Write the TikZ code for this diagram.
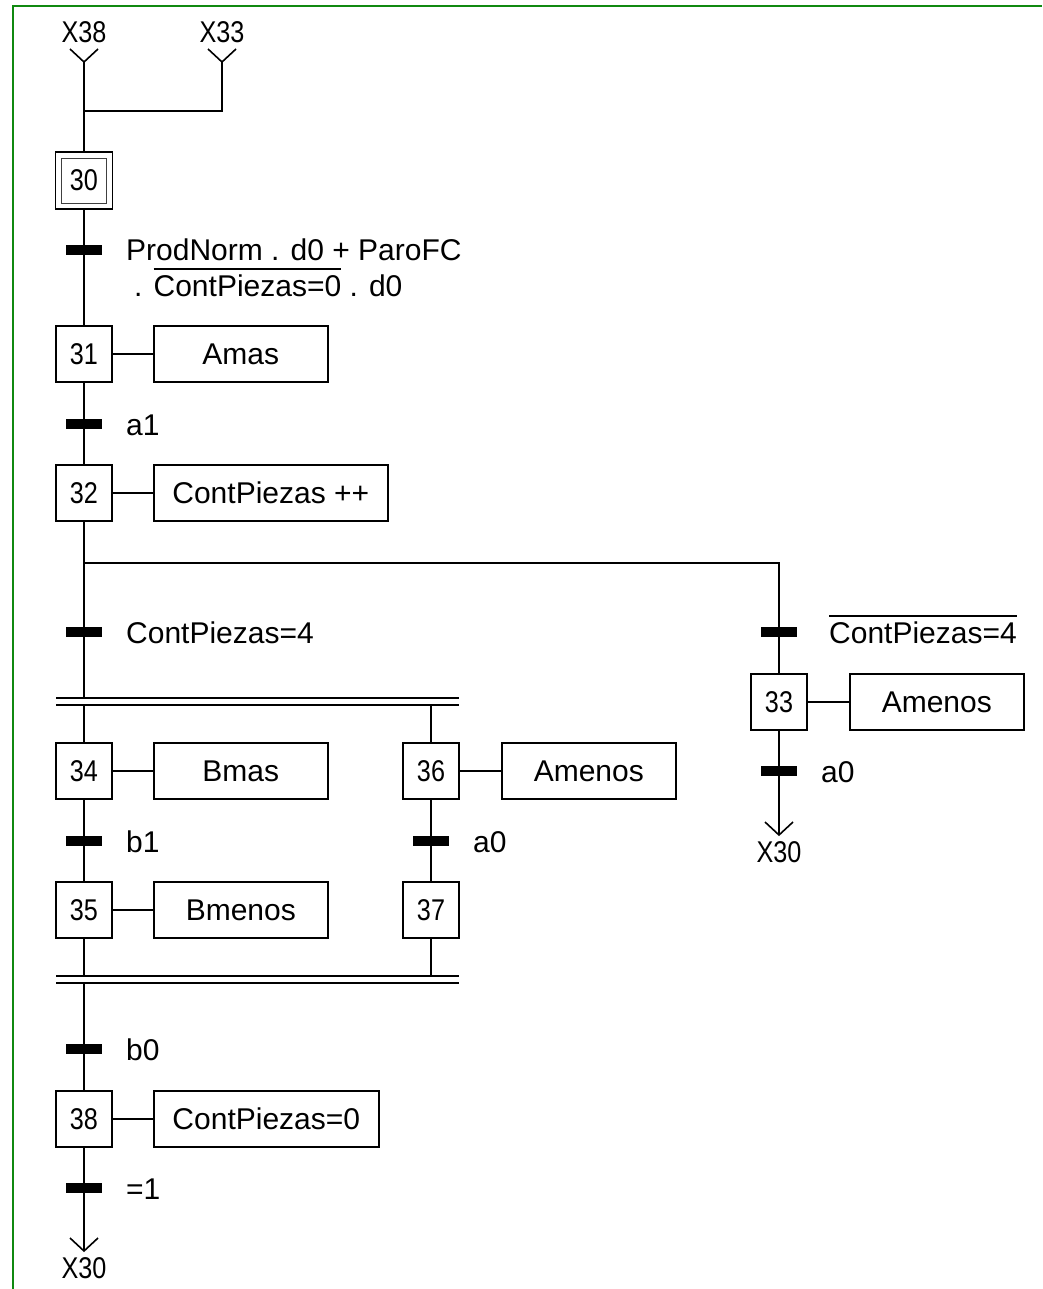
\documentclass[tikz,border=0pt]{standalone}
\usepackage{fontspec}
\setmainfont{Liberation Sans}
\newfontfamily\narrowfont[FakeStretch=0.84]{Liberation Sans}
\usetikzlibrary{calc}
\definecolor{framegreen}{RGB}{16,137,16}
% negated condition: text with a bar over it
\newcommand\negbar[1]{\leavevmode\vbox{\hrule height 1.4pt\kern 4.5pt\hbox{#1}}}
\begin{document}
\begin{tikzpicture}[x=1pt,y=-1pt,
  every node/.style={font=\fontsize{30}{36}\selectfont},
  link/.style={line width=1.6pt},
  stepbox/.style={draw, line width=1.6pt, minimum width=56pt, minimum height=56pt,
    inner sep=0pt, font=\narrowfont\fontsize{30}{36}\selectfont},
  actbox/.style={draw, line width=1.6pt, minimum height=56pt, anchor=west, inner sep=0pt},
  trbar/.style={fill=black, minimum width=36pt, minimum height=10pt, inner sep=0pt},
  trlabel/.style={anchor=base west, inner sep=0pt},
  reflabel/.style={inner sep=0pt, font=\narrowfont\fontsize{30}{36}\selectfont}]

\useasboundingbox (0,0) rectangle (1042,1289);
\draw[framegreen, line width=2.6pt] (13,1289) -- (13,6) -- (1042,6);

% ---- entry into the initial step
\node[reflabel] (x38) at (84,32) {X38};
\node[reflabel] (x33) at (222,32) {X33};
\coordinate (in38) at (84,62);
\coordinate (in33) at (222,62);
\coordinate (j38) at (84,111);
\coordinate (j33) at (222,111);
\draw[link] (in38) ++(-14,-13) -- (in38) -- ++(14,-13);
\draw[link] (in33) ++(-14,-13) -- (in33) -- ++(14,-13);

\node[stepbox, minimum width=57pt, minimum height=57pt] (s30) at (84,180.5) {};
\node[stepbox, draw=black!75, line width=0.9pt, minimum width=45pt, minimum height=45pt] (s30i) at (s30.center) {30};
\draw[link] (in38) -- (s30);
\draw[link] (in33) -- (j33) -- (j38);

% ---- main sequence
\node[trbar] (t1) at (84,250) {};
\node[trlabel] (l1) at (126,261) {ProdNorm . d0 + ParoFC};
\node[trlabel] (l1b) at (134,296) {. \negbar{ContPiezas=0} . d0};

\node[stepbox] (s31) at (84,354) {31};
\node[actbox, minimum width=174pt] (a31) at (153,354) {Amas};
\node[trbar] (t2) at (84,424) {};
\node[trlabel] (l2) at (126,435) {a1};

\node[stepbox] (s32) at (84,493) {32};
\node[actbox, minimum width=234pt] (a32) at (153,493) {ContPiezas ++};

\draw[link] (s30) -- (t1) -- (s31) -- (t2) -- (s32);
\draw[link] (s31) -- (a31);
\draw[link] (s32) -- (a32);

% ---- selection of sequence
\coordinate (or1) at (84,563);
\coordinate (or2) at (779,563);
\node[trbar] (t3) at (84,632) {};
\node[trlabel] (l3) at (126,643) {ContPiezas=4};
\node[trbar] (t4) at (779,632) {};
\node[trlabel] (l4) at (829,643) {\negbar{ContPiezas=4}};
\draw[link] (s32) -- (t3);
\draw[link] (or1) -- (or2) -- (t4);

% ---- right branch
\node[stepbox] (s33) at (779,702) {33};
\node[actbox, minimum width=174pt] (a33) at (849,702) {Amenos};
\node[trbar] (t5) at (779,771) {};
\node[trlabel] (l5) at (821,782) {a0};
\coordinate (out33) at (779,835);
\node[reflabel] (x30r) at (779,852) {X30};
\draw[link] (t4) -- (s33) -- (t5) -- (out33);
\draw[link] (s33) -- (a33);
\draw[link] (out33) ++(-14,-13) -- (out33) -- ++(14,-13);

% ---- parallel branches
\coordinate (pa1L) at (56,698);
\coordinate (pa1R) at (459,698);
\coordinate (pa2L) at (56,705);
\coordinate (pa2R) at (459,705);
\draw[link] (pa1L) -- (pa1R);
\draw[link] (pa2L) -- (pa2R);

\node[stepbox] (s34) at (84,771) {34};
\node[actbox, minimum width=174pt] (a34) at (153,771) {Bmas};
\node[stepbox] (s36) at (431,771) {36};
\node[actbox, minimum width=174pt] (a36) at (501,771) {Amenos};

\node[trbar] (t7) at (84,841) {};
\node[trlabel] (l7) at (126,852) {b1};
\node[trbar] (t8) at (431,841) {};
\node[trlabel] (l8) at (473,852) {a0};

\node[stepbox] (s35) at (84,910) {35};
\node[actbox, minimum width=174pt] (a35) at (153,910) {Bmenos};
\node[stepbox] (s37) at (431,910) {37};

\coordinate (pc1L) at (56,976);
\coordinate (pc1R) at (459,976);
\coordinate (pc2L) at (56,983);
\coordinate (pc2R) at (459,983);
\draw[link] (pc1L) -- (pc1R);
\draw[link] (pc2L) -- (pc2R);

\draw[link] (t3) -- (t3 |- pa1L);
\draw[link] (s34 |- pa2L) -- (s34) -- (t7) -- (s35) -- (s35 |- pc1L);
\draw[link] (s36 |- pa2L) -- (s36) -- (t8) -- (s37) -- (s37 |- pc1L);
\draw[link] (s34) -- (a34);
\draw[link] (s36) -- (a36);
\draw[link] (s35) -- (a35);

% ---- after synchronisation
\node[trbar] (t9) at (84,1049) {};
\node[trlabel] (l9) at (126,1060) {b0};
\node[stepbox] (s38) at (84,1119) {38};
\node[actbox, minimum width=225pt] (a38) at (153,1119) {ContPiezas=0};
\node[trbar] (t10) at (84,1188) {};
\node[trlabel] (l10) at (126,1199) {=1};
\coordinate (out38) at (84,1251);
\node[reflabel] (x30b) at (84,1268) {X30};

\draw[link] (t9 |- pc2L) -- (t9) -- (s38) -- (t10) -- (out38);
\draw[link] (s38) -- (a38);
\draw[link] (out38) ++(-14,-13) -- (out38) -- ++(14,-13);
\end{tikzpicture}
\end{document}
